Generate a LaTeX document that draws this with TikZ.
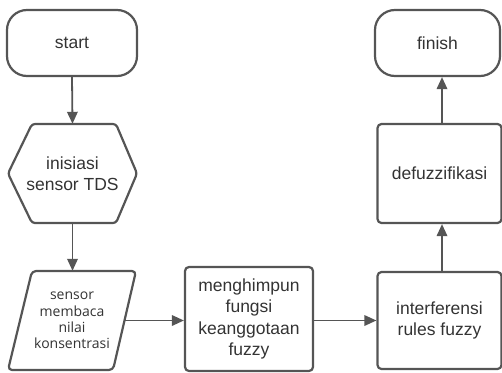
\documentclass[tikz,border=0pt]{standalone}
\usepackage{fontspec}
\setmainfont{Liberation Sans}
\newfontfamily\smallfont{Open Sans}
\usetikzlibrary{arrows.meta}
\definecolor{lc}{HTML}{555555}
\definecolor{tc}{HTML}{333333}
\begin{document}
\begin{tikzpicture}[x=1pt,y=-1pt,
  outline/.style={draw=lc, line width=2.2pt, line join=round},
  arr/.style={draw=lc, line width=1.8pt, -{Triangle[length=12pt,width=10.5pt]}},
  lbl/.style={text=tc, font=\fontsize{17.5}{21.5}\selectfont, align=center, inner sep=0pt},
  slbl/.style={text=tc, font=\smallfont\fontsize{14}{16.3}\selectfont, align=center, inner sep=0pt},
  term/.style={lbl, outline, rounded corners=20pt},
  procbox/.style={lbl, outline, rounded corners=4pt}]
\useasboundingbox (0,0) rectangle (502,372);

% terminals
\node[term, minimum width=130pt, minimum height=66pt] (start) at (72,43) {start};
\node[term, minimum width=125pt, minimum height=66pt] (finish) at (437.5,43) {finish};

% hexagon
\node[lbl, minimum width=129pt, minimum height=99pt] (hex) at (72.5,173.5) {inisiasi\\sensor TDS};
\draw[outline, rounded corners=3pt] (8,173.5) -- (32,124) -- (116,124) -- (137,173.5) -- (116,223) -- (32,223) -- cycle;

% parallelogram
\node[slbl, minimum width=106pt, minimum height=99pt] (para) at (72,320.5) {sensor\\membaca\\nilai\\konsentrasi};
\draw[outline, rounded corners=4pt] (32,271) -- (136,271) -- (113,370) -- (8,370) -- cycle;

% process boxes
\node[procbox, minimum width=128pt, minimum height=104pt] (fuzzy) at (249,319) {menghimpun\\fungsi\\keanggotaan\\fuzzy};
\node[procbox, minimum width=124pt, minimum height=97pt] (rules) at (439.5,320.5) {interferensi\\rules fuzzy};
\node[procbox, minimum width=124pt, minimum height=99pt] (defuzz) at (439.5,173.5) {defuzzifikasi};

% connectors
\draw[arr] (start.south) -- (hex.north);
\draw[arr] (hex.south) -- (hex.south |- para.north);
\draw[arr] (para.east) -- (fuzzy.west |- para.east);
\draw[arr] (fuzzy.east |- rules.west) -- (rules.west);
\draw[arr] ([xshift=2.5pt]rules.north) -- ([xshift=2.5pt]defuzz.south);
\draw[arr] ([xshift=2.5pt]defuzz.north) -- ([xshift=2.5pt]defuzz.north |- finish.south);
\end{tikzpicture}
\end{document}
